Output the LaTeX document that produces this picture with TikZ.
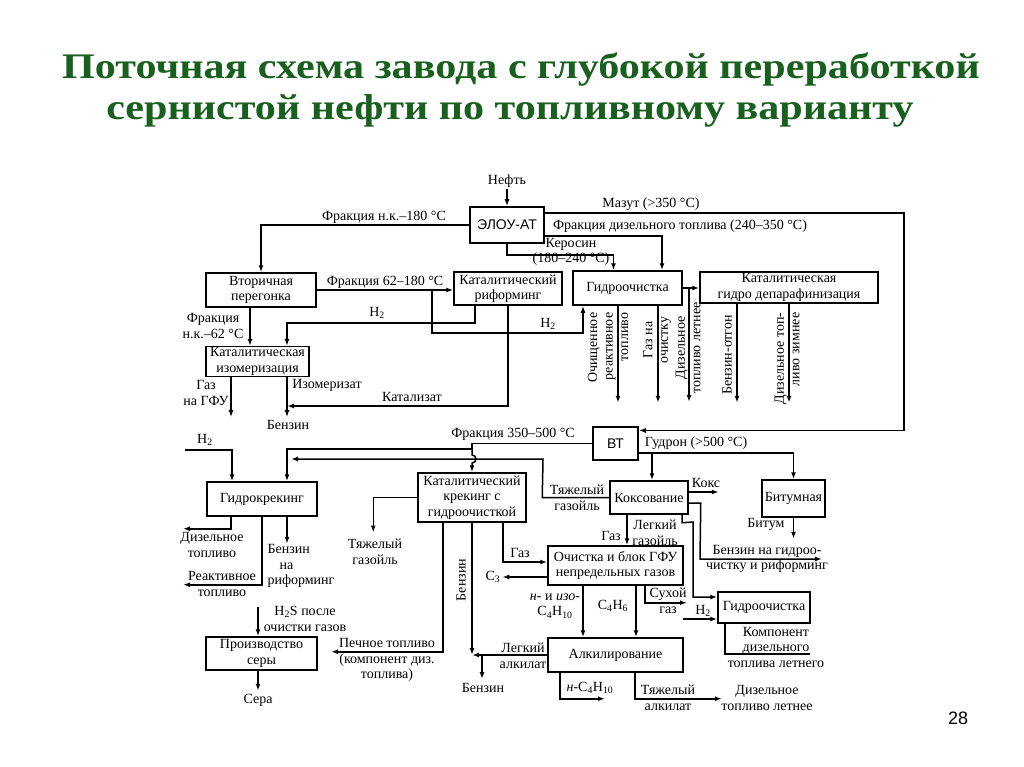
\documentclass[tikz,border=0pt]{standalone}
\usepackage{fontspec}
\setmainfont{Liberation Serif}
\setsansfont{Liberation Sans}
\usetikzlibrary{arrows.meta}
\definecolor{titlegreen}{RGB}{25,95,30}

\begin{document}
\begin{tikzpicture}[
        x=1pt, y=-1pt,
        line width=1.5pt,
        every node/.style={font=\fontsize{14}{15.5}\selectfont, inner sep=1pt, align=center},
        box/.style={draw, line width=1.5pt},
        heading/.style={font=\fontsize{36}{40}\selectfont\bfseries, text=titlegreen, xscale=1.17},
        arr/.style={-{Latex[length=7pt,width=5pt]}}
    ]
    \useasboundingbox (0,0) rectangle (1024,767);

    % Title
    \node[heading] (title1) at (521,70) {Поточная схема завода с глубокой переработкой};
    \node[heading] (title2) at (510,111) {сернистой нефти по топливному варианту};
    \node[font=\fontsize{18}{20}\selectfont\sffamily] (pnum) at (958,718) {28};

    % Units
    \node[box, minimum width=74pt, minimum height=36pt, font=\fontsize{14}{15.5}\selectfont\sffamily] (elou) at (507,225) {ЭЛОУ-АТ};
    \node[box, minimum width=110pt, minimum height=34pt] (vtor) at (261,290) {Вторичная\\перегонка};
    \node[box, minimum width=108pt, minimum height=33pt] (rif) at (508,288.5) {Каталитический\\риформинг};
    \node[box, minimum width=109pt, minimum height=34pt] (gidroA) at (627.5,288) {Гидроочистка};
    \node[box, minimum width=178pt, minimum height=31pt] (depar) at (789,287.5) {Каталитическая\\гидро депарафинизация};
    \node[box, minimum width=103pt, minimum height=29pt] (izom) at (257.5,361.5) {Каталитическая\\изомеризация};
    \node[box, minimum width=45pt, minimum height=33pt, font=\fontsize{14}{15.5}\selectfont\sffamily] (vt) at (615.5,443.5) {ВТ};
    \node[box, minimum width=110pt, minimum height=34pt] (gkrek) at (262,499) {Гидрокрекинг};
    \node[box, minimum width=108pt, minimum height=49pt] (kkrek) at (472,497.5) {Каталитический\\крекинг с\\гидроочисткой};
    \node[box, minimum width=78pt, minimum height=33pt] (koks) at (649,497.5) {Коксование};
    \node[box, minimum width=63pt, minimum height=37pt] (bitum) at (793.5,498.5) {Битумная};
    \node[box, minimum width=135pt, minimum height=39pt] (gfu) at (615.5,565.5) {Очистка и блок ГФУ\\непредельных газов};
    \node[box, minimum width=92pt, minimum height=31pt] (gidroB) at (764,607.5) {Гидроочистка};
    \node[box, minimum width=135pt, minimum height=34pt] (alk) at (615.5,655) {Алкилирование};
    \node[box, minimum width=111pt, minimum height=33pt] (sera) at (261.5,653.5) {Производство\\серы};

    % Crude and AT cuts
    \node (neft) at (507,181) {Нефть};
    \draw[arr] (neft) -- (elou);
    \draw[arr] (elou.west) -| (vtor.north);
    \node (fr180) at (384,217) {Фракция н.к.–180 °С};
    \coordinate (mz) at (904,213);
    \draw[arr] ([yshift=12pt]elou.east) -- (mz) |- ([yshift=13pt]vt.east);
    \node (mazut) at (651,204) {Мазут (>350 °С)};
    \draw[arr] ([yshift=-11pt]elou.east) -| ([xshift=34.5pt]gidroA.north);
    \node (frdiz) at (680,226) {Фракция дизельного топлива (240–350 °С)};
    \draw[arr] (elou.south) -- ++(0,11) -| ([xshift=-14pt]gidroA.north);
    \node (keros) at (571,252) {Керосин\\(180–240 °С)};

    % Secondary distillation
    \draw[arr] (vtor.east) -- (vtor.east -| rif.west);
    \node (fr62) at (385,282) {Фракция 62–180 °С};
    \coordinate (h2a) at (432,290);
    \draw[arr] (h2a) -- ++(0,43) -| ([xshift=-44.5pt]gidroA.south);
    \node (h2lblA) at (548,324) {H\textsubscript{2}};
    \draw[arr] ([xshift=-33pt]rif.south) -- ++(0,17) -| ([xshift=29.5pt]izom.north);
    \node (h2lblB) at (377,313) {H\textsubscript{2}};
    \coordinate (izbenz) at (287,406);
    \draw[arr] (rif.south) |- (izbenz);
    \node (katal) at (412,397) {Катализат};
    \draw[arr] ([xshift=-11pt]vtor.south) -- ([xshift=-11pt]vtor.south |- izom.north);
    \node (fr62b) at (213,326) {Фракция\\н.к.–62 °С};

    % Isomerisation
    \draw[arr] ([xshift=-26.5pt]izom.south) -- ++(0,40);
    \node (gazgfu) at (206,393) {Газ\\на ГФУ};
    \draw[arr] ([xshift=29.5pt]izom.south) -- ++(0,40);
    \node (izomer) at (327,385) {Изомеризат};
    \node (benzA) at (288,425) {Бензин};

    % Hydrotreating and dewaxing
    \draw[arr] (gidroA.east) -- (gidroA.east -| depar.west);
    \coordinate (dzl) at (689,288);
    \draw[arr] ([xshift=-9.5pt]gidroA.south) -- ++(0,97);
    \draw[arr] ([xshift=30.5pt]gidroA.south) -- ++(0,97);
    \draw[arr] (dzl) -- ++(0,114);
    \draw[arr] ([xshift=-52pt]depar.south) -- ++(0,99);
    \draw[arr] (depar.south) -- ++(0,99);
    \node[rotate=90, anchor=east, align=right] (reakt) at (608,311) {Очищенное\\реактивное\\топливо};
    \node[rotate=90] (gazoch) at (657,340) {Газ на\\очистку};
    \node[rotate=90] (dzlet) at (688,348) {Дизельное\\топливо летнее};
    \node[rotate=90] (otgon) at (727,355) {Бензин-отгон};
    \node[rotate=90, anchor=east, align=right] (dzzim) at (787,311) {Дизельное топ-\\ливо зимнее};

    % Vacuum unit
    \node (fr350) at (513,434) {Фракция 350–500 °С};
    \coordinate (vj) at (472,449);
    \draw[arr] (vt.west) -- (472,443.5) -- (vj) -| ([xshift=25pt]gkrek.north);
    \draw[arr] (vj) -- ++(0,6) arc[start angle=90, end angle=-90, radius=4pt] -- (kkrek.north);
    \coordinate (gudr) at (652,453);
    \draw[arr] ([yshift=-9.5pt]vt.east) -| (bitum.north);
    \draw[arr] (gudr) -- (gudr |- koks.north);
    \node (gudron) at (696,443) {Гудрон (>500 °С)};

    % Coking
    \draw[arr] (koks.west) -- ++(-67,0) -- (543,459) -- (291,459);
    \node (tgkoks) at (577,498) {Тяжелый\\газойль};
    \draw[arr] ([yshift=5.5pt]koks.east) -- ++(30,0);
    \node (kokslbl) at (706,483) {Кокс};
    \draw[arr] ([yshift=-5.5pt]koks.east) -- ++(12,0) -- (700,559) -- ++(122,0);
    \node (benzgidr) at (767,559) {Бензин на гидроо-\\чистку и риформинг};
    \draw[arr] ([xshift=33pt]koks.south) -- ++(0,8) -- (693,522) |- ([yshift=10.5pt]gidroB.west);
    \node (lgaz) at (655,533) {Легкий\\газойль};
    \draw[arr] ([xshift=-22pt]koks.south) -- ([xshift=-22pt]koks.south |- gfu.north);
    \node (gazk) at (611,536) {Газ};

    % Bitumen
    \draw[arr] (bitum.south) -- ++(0,21);
    \node (bitumlbl) at (766,524) {Битум};

    % Gas plant
    \draw[arr] ([xshift=31pt]kkrek.south) |- ([yshift=3.5pt]gfu.west);
    \node (gazkk) at (520,553) {Газ};
    \draw[arr] ([yshift=-11.5pt]gfu.west) -- ++(-45,0);
    \node[anchor=east] (c3) at (502,577) {C\textsubscript{3}};
    \draw[arr] ([xshift=-32.5pt]gfu.south) -- ([xshift=-32.5pt]alk.north);
    \node (c4h10) at (555,606) {\textit{н}- и \textit{изо}-\\C\textsubscript{4}H\textsubscript{10}};
    \draw[arr] ([xshift=20.5pt]gfu.south) -- ([xshift=20.5pt]alk.north);
    \node (c4h6) at (613,606) {C\textsubscript{4}H\textsubscript{6}};
    \draw[arr] ([xshift=29.5pt]gfu.south) |- ++(42,17);
    \node (suhgaz) at (668,601) {Сухой\\газ};
    \coordinate (h2c) at (683,619);
    \draw[arr] (h2c) -- (h2c -| gidroB.west);
    \node (h2lblC) at (703,611) {H\textsubscript{2}};
    \draw ([xshift=-39pt]gidroB.south) |- ++(85,30);
    \node (komp) at (776,647) {Компонент\\дизельного\\топлива летнего};

    % Cat cracking products
    \draw[arr] ([xshift=-29pt]kkrek.south) |- ++(-112,129);
    \node (pech) at (387,660) {Печное топливо\\(компонент диз.\\топлива)};
    \coordinate (bjoin) at (472,655);
    \draw[arr] (kkrek.south) -- (bjoin);
    \node[rotate=90] (benzkk) at (461,580) {Бензин};
    \draw[arr] (alk.west) -- (bjoin);
    \node (lalk) at (523,656) {Легкий\\алкилат};
    \coordinate (bout) at (482,655);
    \draw[arr] (bout) -- ++(0,24);
    \node (benzB) at (483,688) {Бензин};
    \draw[arr] (kkrek.west) -| ++(-44,35);
    \node (tgkk) at (375,552) {Тяжелый\\газойль};

    % Alkylation products
    \draw[arr] ([xshift=-55.5pt]alk.south) |- ++(45,26);
    \node (nc4) at (590,688) {\textit{н}-C\textsubscript{4}H\textsubscript{10}};
    \draw[arr] ([xshift=19.5pt]alk.south) |- ++(87,26);
    \node (talk) at (668,698) {Тяжелый\\алкилат};
    \node (dzlet2) at (767,698) {Дизельное\\топливо летнее};

    % Hydrocracking
    \coordinate (h2d) at (185,450);
    \draw[arr] (h2d) -| ([xshift=-30pt]gkrek.north);
    \node (h2lblD) at (205,440) {H\textsubscript{2}};
    \draw[arr] ([xshift=-31pt]gkrek.south) -- ++(0,12) -- ++(-48,0);
    \node (dzgk) at (212,545) {Дизельное\\топливо};
    \draw[arr] (gkrek.south) -- ++(0,68) -- ++(-79,0);
    \node (reakgk) at (222,584) {Реактивное\\топливо};
    \draw[arr] ([xshift=25pt]gkrek.south) -- ++(0,27);
    \node[align=left] (benzrif) at (301,566) {Бензин\\\hspace*{12pt}на\\риформинг};

    % Sulphur
    \coordinate (h2s) at (258,607);
    \draw[arr] (h2s) -- ([xshift=-3.5pt]sera.north);
    \node (h2slbl) at (305,619) {H\textsubscript{2}S после\\очистки газов};
    \draw[arr] ([xshift=-3.5pt]sera.south) -- ++(0,20);
    \node (seralbl) at (258,700) {Сера};
\end{tikzpicture}
\end{document}
